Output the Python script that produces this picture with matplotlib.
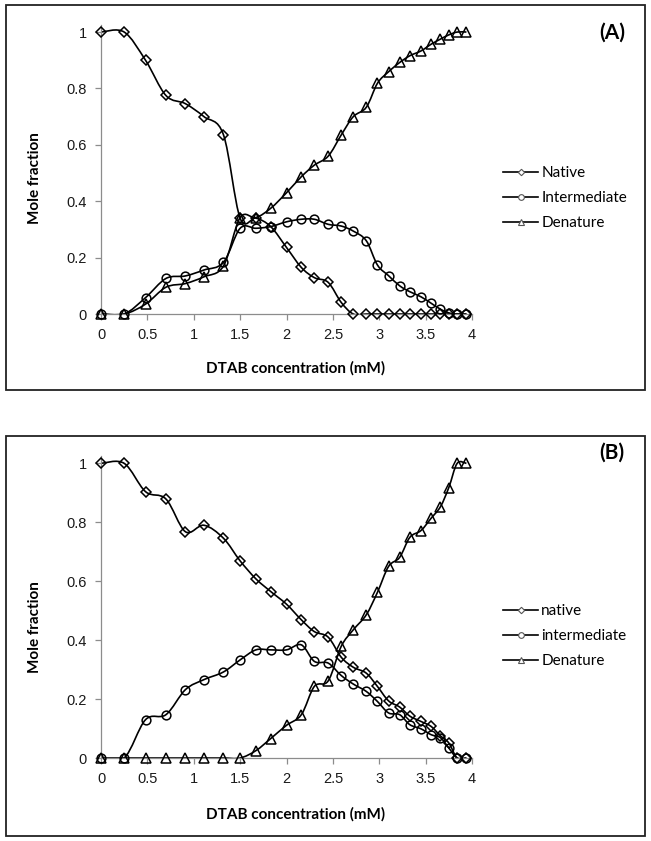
import numpy as np
import matplotlib
matplotlib.use('Agg')
import matplotlib.pyplot as plt
from matplotlib.path import Path
from matplotlib.patches import PathPatch, Rectangle
from matplotlib.lines import Line2D

# DTAB concentration (mM), same points for both panels
dtab = [0.00, 0.25, 0.48, 0.70, 0.91, 1.11, 1.32, 1.50, 1.67, 1.83, 2.00, 2.16, 2.30, 2.45,
        2.59, 2.72, 2.86, 2.98, 3.10, 3.22, 3.33, 3.45, 3.56, 3.66, 3.75, 3.84, 3.94]

# panel (A)
native_a = [1.0, 1.0, 0.90, 0.775, 0.746, 0.70, 0.636, 0.34, 0.34, 0.31, 0.236, 0.165, 0.129, 0.112,
            0.041, 0, 0, 0, 0, 0, 0, 0, 0, 0, 0, 0, 0]
intermediate_a = [0, 0, 0.058, 0.126, 0.135, 0.156, 0.183, 0.304, 0.304, 0.31, 0.327, 0.336, 0.336, 0.318,
                  0.312, 0.294, 0.26, 0.174, 0.136, 0.10, 0.079, 0.061, 0.038, 0.017, 0.004, 0, 0]
denature_a = [0, 0, 0.035, 0.095, 0.108, 0.132, 0.17, 0.342, 0.342, 0.375, 0.43, 0.487, 0.528, 0.56,
              0.635, 0.70, 0.733, 0.818, 0.859, 0.892, 0.916, 0.933, 0.957, 0.975, 0.99, 1.0, 1.0]

# panel (B)
native_b = [1.0, 1.0, 0.904, 0.879, 0.768, 0.79, 0.746, 0.669, 0.608, 0.565, 0.522, 0.469, 0.429, 0.41,
            0.342, 0.308, 0.288, 0.243, 0.194, 0.173, 0.142, 0.124, 0.107, 0.075, 0.051, 0.0, 0.0]
intermediate_b = [0, 0, 0.13, 0.147, 0.232, 0.266, 0.292, 0.333, 0.367, 0.367, 0.367, 0.384, 0.328, 0.322,
                  0.28, 0.251, 0.226, 0.192, 0.153, 0.147, 0.113, 0.099, 0.079, 0.069, 0.034, 0, 0]
denature_b = [0, 0, 0, 0, 0, 0, 0, 0, 0.025, 0.066, 0.111, 0.147, 0.243, 0.262,
              0.379, 0.435, 0.486, 0.562, 0.65, 0.681, 0.749, 0.772, 0.814, 0.853, 0.918, 1.0, 1.0]

xticks = [0, 0.5, 1, 1.5, 2, 2.5, 3, 3.5, 4]
xticklabels = ['0', '0.5', '1', '1.5', '2', '2.5', '3', '3.5', '4']
yticks = [0, 0.2, 0.4, 0.6, 0.8, 1.0]
yticklabels = ['0', '0.2', '0.4', '0.6', '0.8', '1']

labels_a = ['Native', 'Intermediate', 'Denature']
labels_b = ['native', 'intermediate', 'Denature']
markers = ['D', 'o', '^']
msizes = [5.0, 6.3, 6.5]

W, H = 651, 841
tick_font = 'Liberation Sans'
text_font = 'Lato'


def smooth_path(x, y):
    # excel-like smoothed line: bezier segments through the points
    x = np.asarray(x, float)
    y = np.asarray(y, float)
    pts = np.column_stack([x, y])
    n = len(pts)
    verts = [pts[0]]
    codes = [Path.MOVETO]
    for i in range(n - 1):
        p0 = pts[i - 1] if i > 0 else pts[i]
        p1 = pts[i]
        p2 = pts[i + 1]
        p3 = pts[i + 2] if i + 2 < n else pts[i + 1]
        c1 = p1 + (p2 - p0) / 6.0
        c2 = p2 - (p3 - p1) / 6.0
        verts += [c1, c2, p2]
        codes += [Path.CURVE4] * 3
    return Path(verts, codes)


def fig_box(l, t, r, b):
    # rectangle in pixel coords of the figure (top-left origin)
    return [l / W, 1 - b / H, (r - l) / W, (b - t) / H]


def draw_panel(fig, frame, axbox, series, labels, tag, leg_y, ylab_y, xlab_y, tag_y):
    l, t, r, b = frame
    fig.patches.append(Rectangle((l / W, 1 - b / H), (r - l) / W, (b - t) / H,
                                 transform=fig.transFigure, fill=False,
                                 edgecolor='#222222', linewidth=1.3))
    ax = fig.add_axes(fig_box(*axbox))
    ax.set_xlim(0, 4)
    ax.set_ylim(0, 1.025)
    for sp in ['top', 'right']:
        ax.spines[sp].set_visible(False)
    for sp in ['left', 'bottom']:
        ax.spines[sp].set_color('#8c8c8c')
        ax.spines[sp].set_linewidth(0.9)
    ax.set_xticks(xticks)
    ax.set_xticklabels(xticklabels)
    ax.set_yticks(yticks)
    ax.set_yticklabels(yticklabels)
    ax.tick_params(direction='out', length=4, width=0.9, color='#8c8c8c',
                   labelsize=10.5, labelcolor='#1a1a1a', pad=6)
    for lab in ax.get_xticklabels() + ax.get_yticklabels():
        lab.set_fontfamily(tick_font)

    handles = []
    for ys, mk, ms in zip(series, markers, msizes):
        ax.add_patch(PathPatch(smooth_path(dtab, ys), facecolor='none', edgecolor='black',
                               linewidth=1.2, zorder=2))
        ax.plot(dtab, ys, linestyle='none', marker=mk, markersize=ms, markerfacecolor='none',
                markeredgecolor='black', markeredgewidth=1.1, zorder=3, clip_on=False)
        handles.append(Line2D([], [], color='black', linewidth=1.2, marker=mk,
                              markersize=ms * 0.65, markerfacecolor='white',
                              markeredgecolor='#555555', markeredgewidth=0.8))

    fig.legend(handles, labels, loc='center left', bbox_to_anchor=(503 / W, 1 - leg_y / H),
               frameon=False, prop={'family': text_font, 'size': 11}, handlelength=2.3,
               handletextpad=0.2, labelspacing=0.72, borderpad=0, borderaxespad=0)

    fig.text(35 / W, 1 - ylab_y / H, 'Mole fraction', rotation=90, ha='center', va='center',
             fontfamily=text_font, fontweight='bold', fontsize=11)
    fig.text(296 / W, 1 - xlab_y / H, 'DTAB concentration (mM)', ha='center', va='center',
             fontfamily=text_font, fontweight='bold', fontsize=11)
    fig.text(612 / W, 1 - tag_y / H, tag, ha='center', va='center',
             fontfamily=text_font, fontweight='bold', fontsize=15)
    return ax


fig = plt.figure(figsize=(W / 100, H / 100), dpi=100)

draw_panel(fig, (6, 5, 645, 390), (101, 25, 472, 314),
           [native_a, intermediate_a, denature_a], labels_a, '(A)', 198, 178, 368, 33)
draw_panel(fig, (6, 436, 645, 836), (101, 456, 472, 758),
           [native_b, intermediate_b, denature_b], labels_b, '(B)', 636, 627, 814, 453)

fig.savefig('out.png', dpi=100)
